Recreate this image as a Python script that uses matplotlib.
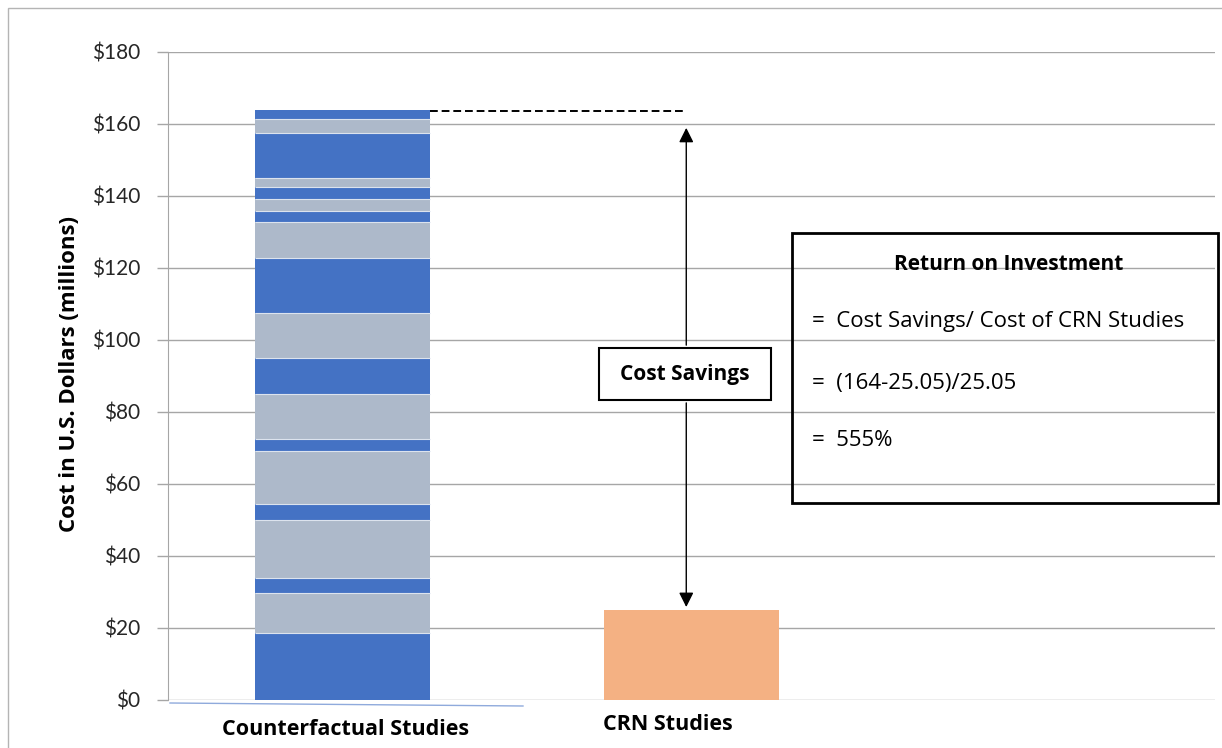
import numpy as np
import matplotlib.pyplot as plt
from matplotlib.patches import Rectangle
from matplotlib.lines import Line2D

plt.rcParams['font.family'] = ['Open Sans', 'DejaVu Sans']

categories = ["Counterfactual Studies", "CRN Studies"]
# pieces of the counterfactual bar, bottom to top ($ millions)
cf_segments = [18.7, 10.9, 4.4, 16.0, 4.4, 14.9, 3.1, 12.5, 10.2, 12.5,
               15.1, 10.2, 2.9, 3.5, 3.3, 2.3, 12.7, 3.7, 2.7]
crn_cost = 25.05
cf_total = 164
yticks = np.arange(0, 181, 20)
ytick_labels = [f"${v}" for v in yticks]
roi_title = "Return on Investment"
roi_lines = ["=  Cost Savings/ Cost of CRN Studies", "=  (164-25.05)/25.05", "=  555%"]

dark = "#4472C4"
light = "#ADB9CA"
orange = "#F4B183"
grid_c = "#a6a6a6"

W, H = 1222, 748
fig = plt.figure(figsize=(W / 100, H / 100), dpi=100)
ax = fig.add_axes([168 / W, 1 - 700 / H, (1215 - 168) / W, 648 / H])

# stacked counterfactual bar
bottoms = np.concatenate([[0], np.cumsum(cf_segments)[:-1]])
colors = [dark if i % 2 == 0 else light for i in range(len(cf_segments))]
ax.bar(0, cf_segments, width=0.5, bottom=bottoms, color=colors, linewidth=0, zorder=3)
ax.hlines(bottoms[1:], -0.25, 0.25, color="#dce3ee", lw=0.8, zorder=4)
ax.bar(1, crn_cost, width=0.5, color=orange, linewidth=0, zorder=3)

ax.set_xlim(-0.5, 2.5)
ax.set_ylim(0, 180)
ax.set_yticks(yticks)
ax.set_yticklabels(ytick_labels, family=['Lato', 'DejaVu Sans'])
ax.set_xticks([])
ax.grid(axis="y", color=grid_c, lw=1, zorder=0)
ax.tick_params(axis="y", length=8, color=grid_c, width=1, pad=12, labelsize=15, labelcolor="#262626")
for s in ["top", "right", "bottom"]:
    ax.spines[s].set_visible(False)
ax.spines["left"].set_color(grid_c)

# category labels
ax.text(0.01, -0.046, categories[0], transform=ax.get_xaxis_transform(),
        ha="center", va="center", fontsize=15.5, fontweight="bold")
ax.text(0.932, -0.038, categories[1], transform=ax.get_xaxis_transform(),
        ha="center", va="center", fontsize=15.5, fontweight="bold")

# savings marker
ax.plot([0.25, 0.985], [163.5, 163.5], color="black", lw=1.4, dashes=(4, 2), zorder=5)
ax.annotate("", xy=(0.985, 159.7), xytext=(0.985, 97.8),
            arrowprops=dict(arrowstyle="-|>", color="black", lw=1, mutation_scale=22))
ax.annotate("", xy=(0.985, crn_cost), xytext=(0.985, 83.3),
            arrowprops=dict(arrowstyle="-|>", color="black", lw=1, mutation_scale=22))
ax.add_patch(Rectangle((0.734, 83.3), 0.494, 14.5, fc="white", ec="black", lw=1.5, zorder=6))
ax.text(0.981, 90.5, "Cost Savings", ha="center", va="center", fontsize=15,
        fontweight="bold", zorder=7)

# ROI box
fig.add_artist(Rectangle((792 / W, 1 - 503 / H), (1218 - 792) / W, 270 / H,
                         transform=fig.transFigure, fill=False, ec="black", lw=2))
fig.text(1009 / W, 1 - 265 / H, roi_title, ha="center", va="center", fontsize=15, fontweight="bold")
for line, yp in zip(roi_lines, [322, 383, 440]):
    fig.text(812 / W, 1 - yp / H, line, ha="left", va="center", fontsize=16)

fig.text(70 / W, 1 - 374 / H, "Cost in U.S. Dollars (millions)", rotation=90,
         ha="center", va="center", fontsize=16, fontweight="bold")

# stray light-blue baseline and outer frame
fig.add_artist(Line2D([170 / W, 523 / W], [1 - 703 / H, 1 - 706 / H],
                      transform=fig.transFigure, color="#8faadc", lw=1))
fig.add_artist(Rectangle((8 / W, -0.1), 1.2, 1.1 - 8 / H, transform=fig.transFigure,
                         fill=False, ec="#b4b4b4", lw=1))

fig.savefig("out.png", dpi=100)
